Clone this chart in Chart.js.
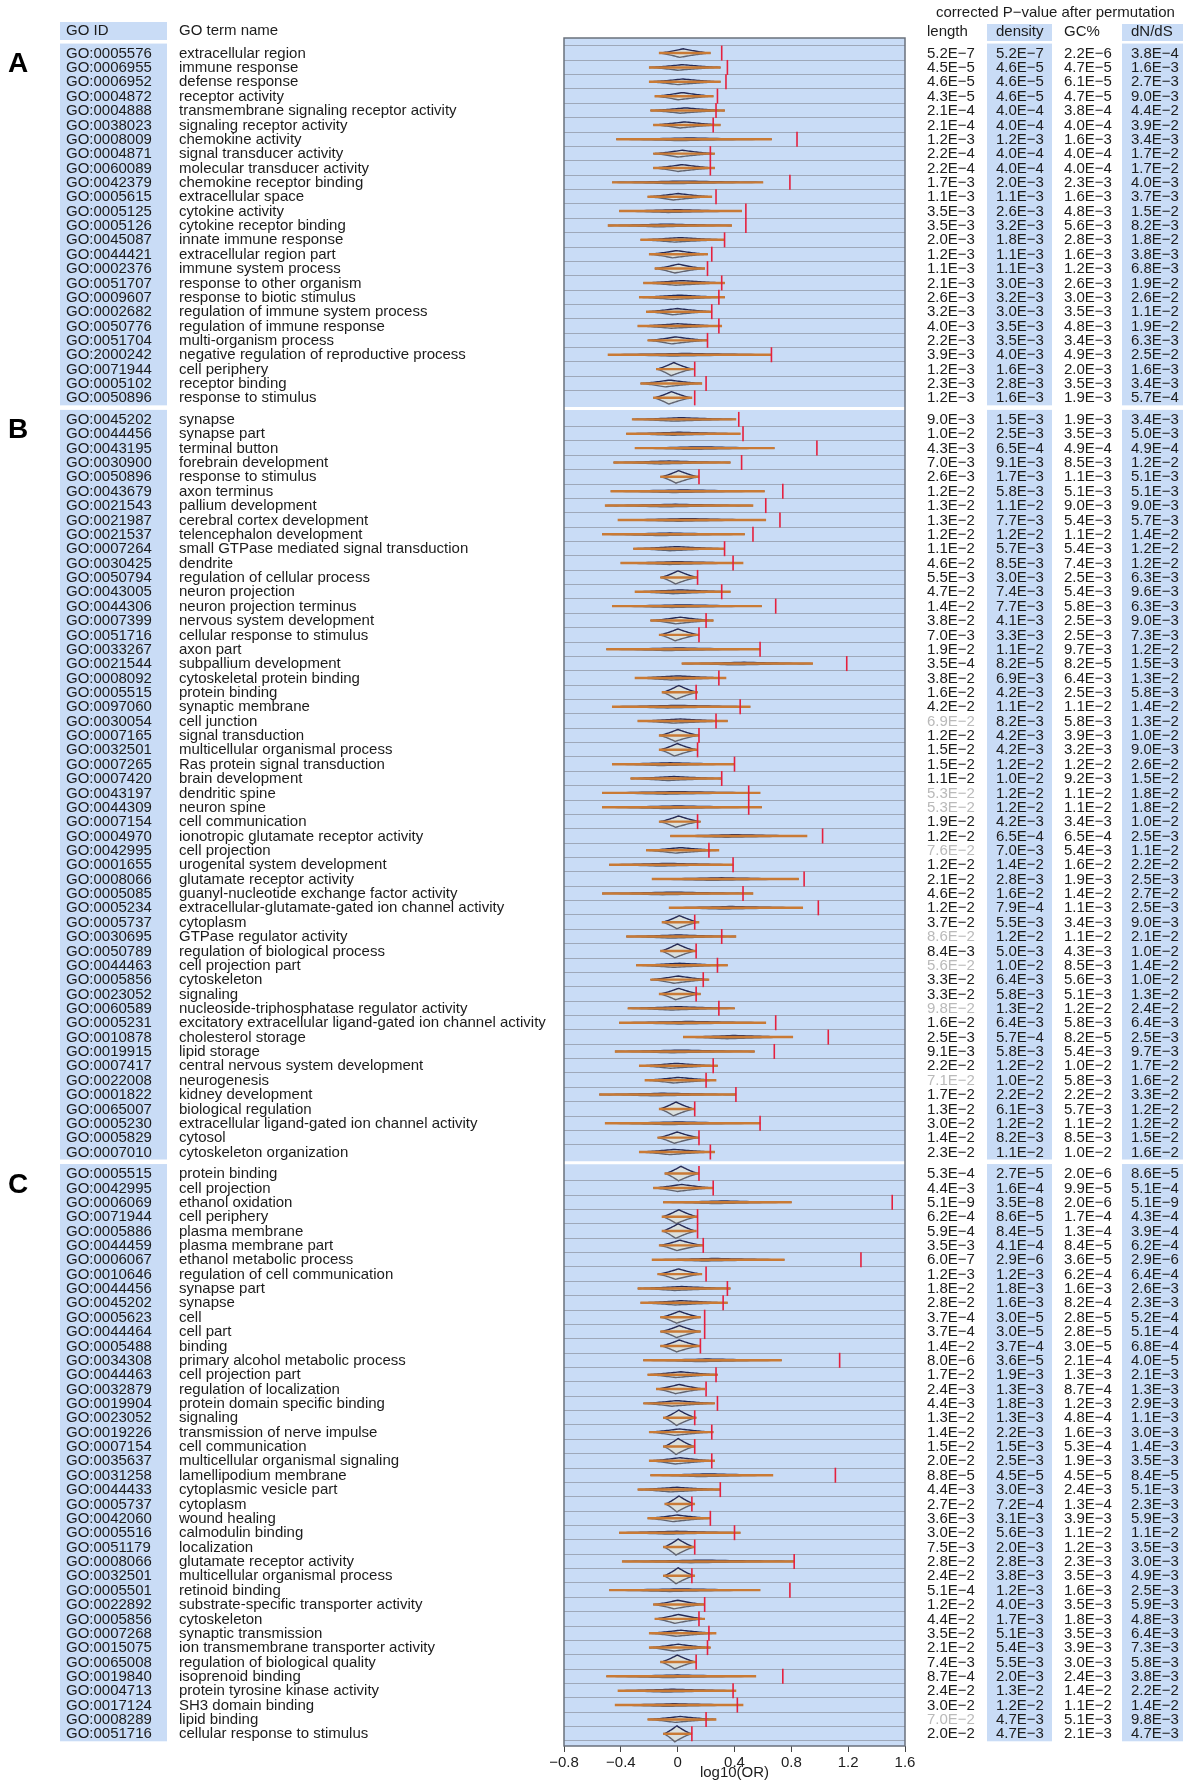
<!DOCTYPE html>
<html>
<head>
<meta charset="utf-8">
<script src="https://cdn.jsdelivr.net/npm/chart.js@4.4.1/dist/chart.umd.min.js"></script>
<style>
  html, body { margin: 0; padding: 0; background: #fff; }
  canvas { display: block; }
</style>
</head>
<body>
<canvas id="chart" width="1183" height="1782"></canvas>
<script>
// ---- data: section A ----
const idsA = ['GO:0005576','GO:0006955','GO:0006952','GO:0004872','GO:0004888','GO:0038023','GO:0008009','GO:0004871','GO:0060089','GO:0042379','GO:0005615','GO:0005125','GO:0005126','GO:0045087','GO:0044421','GO:0002376','GO:0051707','GO:0009607','GO:0002682','GO:0050776','GO:0051704','GO:2000242','GO:0071944','GO:0005102','GO:0050896'];
const termsA = ['extracellular region','immune response','defense response','receptor activity','transmembrane signaling receptor activity','signaling receptor activity','chemokine activity','signal transducer activity','molecular transducer activity','chemokine receptor binding','extracellular space','cytokine activity','cytokine receptor binding','innate immune response','extracellular region part','immune system process','response to other organism','response to biotic stimulus','regulation of immune system process','regulation of immune response','multi-organism process','negative regulation of reproductive process','cell periphery','receptor binding','response to stimulus'];
const lengthA  = ['5.2E-7','4.5E-5','4.6E-5','4.3E-5','2.1E-4','2.1E-4','1.2E-3','2.2E-4','2.2E-4','1.7E-3','1.1E-3','3.5E-3','3.5E-3','2.0E-3','1.2E-3','1.1E-3','2.1E-3','2.6E-3','3.2E-3','4.0E-3','2.2E-3','3.9E-3','1.2E-3','2.3E-3','1.2E-3'];
const densityA = ['5.2E-7','4.6E-5','4.6E-5','4.6E-5','4.0E-4','4.0E-4','1.2E-3','4.0E-4','4.0E-4','2.0E-3','1.1E-3','2.6E-3','3.2E-3','1.8E-3','1.1E-3','1.1E-3','3.0E-3','3.2E-3','3.0E-3','3.5E-3','3.5E-3','4.0E-3','1.6E-3','2.8E-3','1.6E-3'];
const gcA      = ['2.2E-6','4.7E-5','6.1E-5','4.7E-5','3.8E-4','4.0E-4','1.6E-3','4.0E-4','4.0E-4','2.3E-3','1.6E-3','4.8E-3','5.6E-3','2.8E-3','1.6E-3','1.2E-3','2.6E-3','3.0E-3','3.5E-3','4.8E-3','3.4E-3','4.9E-3','2.0E-3','3.5E-3','1.9E-3'];
const dndsA    = ['3.8E-4','1.6E-3','2.7E-3','9.0E-3','4.4E-2','3.9E-2','3.4E-3','1.7E-2','1.7E-2','4.0E-3','3.7E-3','1.5E-2','8.2E-3','1.8E-2','3.8E-3','6.8E-3','1.9E-2','2.6E-2','1.1E-2','1.9E-2','6.3E-3','2.5E-2','1.6E-3','3.4E-3','5.7E-4'];
const obsA = [0.31,0.35,0.34,0.28,0.27,0.25,0.84,0.23,0.23,0.79,0.27,0.48,0.48,0.33,0.24,0.21,0.31,0.29,0.24,0.29,0.21,0.66,0.12,0.20,0.12];
const loA  = [-0.13,-0.20,-0.20,-0.16,-0.19,-0.17,-0.43,-0.17,-0.17,-0.46,-0.21,-0.41,-0.49,-0.26,-0.20,-0.16,-0.24,-0.27,-0.22,-0.28,-0.21,-0.49,-0.15,-0.26,-0.17];
const hiA  = [0.23,0.30,0.30,0.25,0.33,0.30,0.66,0.26,0.26,0.60,0.24,0.45,0.38,0.33,0.21,0.19,0.33,0.33,0.24,0.31,0.21,0.66,0.11,0.17,0.10];

// ---- data: section B ----
const idsB = ['GO:0045202','GO:0044456','GO:0043195','GO:0030900','GO:0050896','GO:0043679','GO:0021543','GO:0021987','GO:0021537','GO:0007264','GO:0030425','GO:0050794','GO:0043005','GO:0044306','GO:0007399','GO:0051716','GO:0033267','GO:0021544','GO:0008092','GO:0005515','GO:0097060','GO:0030054','GO:0007165','GO:0032501','GO:0007265','GO:0007420','GO:0043197','GO:0044309','GO:0007154','GO:0004970','GO:0042995','GO:0001655','GO:0008066','GO:0005085','GO:0005234','GO:0005737','GO:0030695','GO:0050789','GO:0044463','GO:0005856','GO:0023052','GO:0060589','GO:0005231','GO:0010878','GO:0019915','GO:0007417','GO:0022008','GO:0001822','GO:0065007','GO:0005230','GO:0005829','GO:0007010'];
const termsB = ['synapse','synapse part','terminal button','forebrain development','response to stimulus','axon terminus','pallium development','cerebral cortex development','telencephalon development','small GTPase mediated signal transduction','dendrite','regulation of cellular process','neuron projection','neuron projection terminus','nervous system development','cellular response to stimulus','axon part','subpallium development','cytoskeletal protein binding','protein binding','synaptic membrane','cell junction','signal transduction','multicellular organismal process','Ras protein signal transduction','brain development','dendritic spine','neuron spine','cell communication','ionotropic glutamate receptor activity','cell projection','urogenital system development','glutamate receptor activity','guanyl-nucleotide exchange factor activity','extracellular-glutamate-gated ion channel activity','cytoplasm','GTPase regulator activity','regulation of biological process','cell projection part','cytoskeleton','signaling','nucleoside-triphosphatase regulator activity','excitatory extracellular ligand-gated ion channel activity','cholesterol storage','lipid storage','central nervous system development','neurogenesis','kidney development','biological regulation','extracellular ligand-gated ion channel activity','cytosol','cytoskeleton organization'];
const lengthB  = ['9.0E-3','1.0E-2','4.3E-3','7.0E-3','2.6E-3','1.2E-2','1.3E-2','1.3E-2','1.2E-2','1.1E-2','4.6E-2','5.5E-3','4.7E-2','1.4E-2','3.8E-2','7.0E-3','1.9E-2','3.5E-4','3.8E-2','1.6E-2','4.2E-2','6.9E-2','1.2E-2','1.5E-2','1.5E-2','1.1E-2','5.3E-2','5.3E-2','1.9E-2','1.2E-2','7.6E-2','1.2E-2','2.1E-2','4.6E-2','1.2E-2','3.7E-2','8.6E-2','8.4E-3','5.6E-2','3.3E-2','3.3E-2','9.8E-2','1.6E-2','2.5E-3','9.1E-3','2.2E-2','7.1E-2','1.7E-2','1.3E-2','3.0E-2','1.4E-2','2.3E-2'];
const densityB = ['1.5E-3','2.5E-3','6.5E-4','9.1E-3','1.7E-3','5.8E-3','1.1E-2','7.7E-3','1.2E-2','5.7E-3','8.5E-3','3.0E-3','7.4E-3','7.7E-3','4.1E-3','3.3E-3','1.1E-2','8.2E-5','6.9E-3','4.2E-3','1.1E-2','8.2E-3','4.2E-3','4.2E-3','1.2E-2','1.0E-2','1.2E-2','1.2E-2','4.2E-3','6.5E-4','7.0E-3','1.4E-2','2.8E-3','1.6E-2','7.9E-4','5.5E-3','1.2E-2','5.0E-3','1.0E-2','6.4E-3','5.8E-3','1.3E-2','6.4E-3','5.7E-4','5.8E-3','1.2E-2','1.0E-2','2.2E-2','6.1E-3','1.2E-2','8.2E-3','1.1E-2'];
const gcB      = ['1.9E-3','3.5E-3','4.9E-4','8.5E-3','1.1E-3','5.1E-3','9.0E-3','5.4E-3','1.1E-2','5.4E-3','7.4E-3','2.5E-3','5.4E-3','5.8E-3','2.5E-3','2.5E-3','9.7E-3','8.2E-5','6.4E-3','2.5E-3','1.1E-2','5.8E-3','3.9E-3','3.2E-3','1.2E-2','9.2E-3','1.1E-2','1.1E-2','3.4E-3','6.5E-4','5.4E-3','1.6E-2','1.9E-3','1.4E-2','1.1E-3','3.4E-3','1.1E-2','4.3E-3','8.5E-3','5.6E-3','5.1E-3','1.2E-2','5.8E-3','8.2E-5','5.4E-3','1.0E-2','5.8E-3','2.2E-2','5.7E-3','1.1E-2','8.5E-3','1.0E-2'];
const dndsB    = ['3.4E-3','5.0E-3','4.9E-4','1.2E-2','5.1E-3','5.1E-3','9.0E-3','5.7E-3','1.4E-2','1.2E-2','1.2E-2','6.3E-3','9.6E-3','6.3E-3','9.0E-3','7.3E-3','1.2E-2','1.5E-3','1.3E-2','5.8E-3','1.4E-2','1.3E-2','1.0E-2','9.0E-3','2.6E-2','1.5E-2','1.8E-2','1.8E-2','1.0E-2','2.5E-3','1.1E-2','2.2E-2','2.5E-3','2.7E-2','2.5E-3','9.0E-3','2.1E-2','1.0E-2','1.4E-2','1.0E-2','1.3E-2','2.4E-2','6.4E-3','2.5E-3','9.7E-3','1.7E-2','1.6E-2','3.3E-2','1.2E-2','1.2E-2','1.5E-2','1.6E-2'];
const obsB = [0.43,0.46,0.98,0.45,0.15,0.74,0.62,0.72,0.53,0.33,0.39,0.14,0.31,0.69,0.20,0.15,0.58,1.19,0.29,0.13,0.44,0.27,0.15,0.14,0.40,0.31,0.50,0.50,0.14,1.02,0.22,0.39,0.89,0.46,0.99,0.12,0.31,0.13,0.28,0.18,0.13,0.29,0.69,1.06,0.68,0.25,0.20,0.41,0.12,0.58,0.15,0.23];
const loB  = [-0.32,-0.36,-0.30,-0.45,-0.12,-0.47,-0.51,-0.42,-0.53,-0.31,-0.40,-0.12,-0.30,-0.46,-0.19,-0.13,-0.50,0.03,-0.30,-0.11,-0.46,-0.28,-0.13,-0.13,-0.46,-0.33,-0.53,-0.53,-0.13,-0.05,-0.22,-0.48,-0.18,-0.53,-0.06,-0.11,-0.36,-0.12,-0.29,-0.19,-0.13,-0.35,-0.41,0.04,-0.44,-0.27,-0.23,-0.55,-0.13,-0.51,-0.14,-0.27];
const hiB  = [0.41,0.44,0.68,0.37,0.15,0.61,0.53,0.62,0.47,0.33,0.46,0.14,0.37,0.59,0.25,0.15,0.58,0.95,0.34,0.14,0.51,0.35,0.15,0.14,0.40,0.31,0.58,0.59,0.16,0.91,0.29,0.39,0.85,0.53,0.88,0.15,0.41,0.13,0.35,0.22,0.16,0.40,0.62,0.81,0.54,0.28,0.27,0.41,0.12,0.58,0.15,0.26];

// ---- data: section C ----
const idsC = ['GO:0005515','GO:0042995','GO:0006069','GO:0071944','GO:0005886','GO:0044459','GO:0006067','GO:0010646','GO:0044456','GO:0045202','GO:0005623','GO:0044464','GO:0005488','GO:0034308','GO:0044463','GO:0032879','GO:0019904','GO:0023052','GO:0019226','GO:0007154','GO:0035637','GO:0031258','GO:0044433','GO:0005737','GO:0042060','GO:0005516','GO:0051179','GO:0008066','GO:0032501','GO:0005501','GO:0022892','GO:0005856','GO:0007268','GO:0015075','GO:0065008','GO:0019840','GO:0004713','GO:0017124','GO:0008289','GO:0051716'];
const termsC = ['protein binding','cell projection','ethanol oxidation','cell periphery','plasma membrane','plasma membrane part','ethanol metabolic process','regulation of cell communication','synapse part','synapse','cell','cell part','binding','primary alcohol metabolic process','cell projection part','regulation of localization','protein domain specific binding','signaling','transmission of nerve impulse','cell communication','multicellular organismal signaling','lamellipodium membrane','cytoplasmic vesicle part','cytoplasm','wound healing','calmodulin binding','localization','glutamate receptor activity','multicellular organismal process','retinoid binding','substrate-specific transporter activity','cytoskeleton','synaptic transmission','ion transmembrane transporter activity','regulation of biological quality','isoprenoid binding','protein tyrosine kinase activity','SH3 domain binding','lipid binding','cellular response to stimulus'];
const lengthC  = ['5.3E-4','4.4E-3','5.1E-9','6.2E-4','5.9E-4','3.5E-3','6.0E-7','1.2E-3','1.8E-2','2.8E-2','3.7E-4','3.7E-4','1.4E-2','8.0E-6','1.7E-2','2.4E-3','4.4E-3','1.3E-2','1.4E-2','1.5E-2','2.0E-2','8.8E-5','4.4E-3','2.7E-2','3.6E-3','3.0E-2','7.5E-3','2.8E-2','2.4E-2','5.1E-4','1.2E-2','4.4E-2','3.5E-2','2.1E-2','7.4E-3','8.7E-4','2.4E-2','3.0E-2','7.0E-2','2.0E-2'];
const densityC = ['2.7E-5','1.6E-4','3.5E-8','8.6E-5','8.4E-5','4.1E-4','2.9E-6','1.2E-3','1.8E-3','1.6E-3','3.0E-5','3.0E-5','3.7E-4','3.6E-5','1.9E-3','1.3E-3','1.8E-3','1.3E-3','2.2E-3','1.5E-3','2.5E-3','4.5E-5','3.0E-3','7.2E-4','3.1E-3','5.6E-3','2.0E-3','2.8E-3','3.8E-3','1.2E-3','4.0E-3','1.7E-3','5.1E-3','5.4E-3','5.5E-3','2.0E-3','1.3E-2','1.2E-2','4.7E-3','4.7E-3'];
const gcC      = ['2.0E-6','9.9E-5','2.0E-6','1.7E-4','1.3E-4','8.4E-5','3.6E-5','6.2E-4','1.6E-3','8.2E-4','2.8E-5','2.8E-5','3.0E-5','2.1E-4','1.3E-3','8.7E-4','1.2E-3','4.8E-4','1.6E-3','5.3E-4','1.9E-3','4.5E-5','2.4E-3','1.3E-4','3.9E-3','1.1E-2','1.2E-3','2.3E-3','3.5E-3','1.6E-3','3.5E-3','1.8E-3','3.5E-3','3.9E-3','3.0E-3','2.4E-3','1.4E-2','1.1E-2','5.1E-3','2.1E-3'];
const dndsC    = ['8.6E-5','5.1E-4','5.1E-9','4.3E-4','3.9E-4','6.2E-4','2.9E-6','6.4E-4','2.6E-3','2.3E-3','5.2E-4','5.1E-4','6.8E-4','4.0E-5','2.1E-3','1.3E-3','2.9E-3','1.1E-3','3.0E-3','1.4E-3','3.5E-3','8.4E-5','5.1E-3','2.3E-3','5.9E-3','1.1E-2','3.5E-3','3.0E-3','4.9E-3','2.5E-3','5.9E-3','4.8E-3','6.4E-3','7.3E-3','5.8E-3','3.8E-3','2.2E-2','1.4E-2','9.8E-3','4.7E-3'];
const obsC = [0.15,0.25,1.51,0.14,0.14,0.18,1.29,0.20,0.35,0.32,0.19,0.19,0.16,1.14,0.27,0.20,0.28,0.12,0.24,0.12,0.24,1.11,0.30,0.10,0.23,0.40,0.12,0.82,0.10,0.79,0.19,0.15,0.22,0.21,0.13,0.74,0.39,0.42,0.20,0.10];
const loC  = [-0.09,-0.17,-0.10,-0.11,-0.11,-0.13,-0.18,-0.14,-0.28,-0.26,-0.12,-0.12,-0.12,-0.24,-0.21,-0.15,-0.24,-0.10,-0.20,-0.10,-0.20,-0.19,-0.28,-0.09,-0.21,-0.41,-0.10,-0.39,-0.10,-0.48,-0.17,-0.16,-0.20,-0.20,-0.12,-0.50,-0.42,-0.44,-0.21,-0.10];
const hiC  = [0.15,0.25,0.80,0.14,0.13,0.18,0.75,0.17,0.37,0.35,0.16,0.16,0.16,0.73,0.28,0.19,0.26,0.13,0.25,0.12,0.26,0.67,0.30,0.12,0.23,0.44,0.12,0.82,0.12,0.58,0.19,0.19,0.27,0.23,0.13,0.55,0.41,0.46,0.27,0.10];

// ---- axis / headers ----
const xTicks = [-0.8, -0.4, 0, 0.4, 0.8, 1.2, 1.6];
const xTickLabels = ['\u22120.8', '\u22120.4', '0', '0.4', '0.8', '1.2', '1.6'];
const pvalHeader = 'corrected P\u2212value after permutation';
const pvalCols = ['length', 'density', 'GC%', 'dN/dS'];

// ---- style ----
const FONT = "'Liberation Sans', Arial, Helvetica, sans-serif";
const BLUE = '#c9dcf6';
const INK = '#1c1c1c';
const FADED = '#b9b9b9';
const SECTION_GAP = 0.5;   // extra rows between panels

const raw = [
  { label: 'A', ids: idsA, terms: termsA, cols: [lengthA, densityA, gcA, dndsA], obs: obsA, lo: loA, hi: hiA },
  { label: 'B', ids: idsB, terms: termsB, cols: [lengthB, densityB, gcB, dndsB], obs: obsB, lo: loB, hi: hiB },
  { label: 'C', ids: idsC, terms: termsC, cols: [lengthC, densityC, gcC, dndsC], obs: obsC, lo: loC, hi: hiC },
];
let next = 0;
const sections = raw.map(s => {
  const start = next;
  next = start + s.ids.length + SECTION_GAP;
  return { ...s, start, pos: s.ids.map((_, i) => start + i) };
});
const allPos = sections.flatMap(s => s.pos);
const lastPos = allPos[allPos.length - 1];

const valX = [927, 996, 1064, 1131];
const colBoxes = [[60, 167], [987, 1052], [1122, 1183]];

function drawViolin(ctx, x, yPix, lo, hi) {
  const range = Math.max(hi - lo, 0.05);
  const h = Math.max(1.3, Math.min(8, 7.3 * Math.pow(0.24 / range, 1.3)));
  const curve = (peak) => {
    const pts = [];
    for (let k = 0; k <= 40; k++) {
      const v = lo + range * k / 40;
      const t = v < peak ? (peak - v) / (peak - lo) : (v - peak) / (hi - peak);
      pts.push([x.getPixelForValue(v), h * Math.pow(Math.max(0, 1 - t), 1.3)]);
    }
    return pts;
  };
  const up = curve(lo + 0.47 * range), dn = curve(lo + 0.40 * range);
  ctx.beginPath();
  up.forEach(([px, d], i) => i ? ctx.lineTo(px, yPix - d) : ctx.moveTo(px, yPix - d));
  for (let i = dn.length - 1; i >= 0; i--) ctx.lineTo(dn[i][0], yPix + dn[i][1]);
  ctx.closePath();
  ctx.fillStyle = 'rgba(230,226,208,0.6)';
  ctx.fill();
  ctx.lineWidth = 1.4;
  ctx.strokeStyle = '#62646f';
  ctx.beginPath();
  dn.forEach(([px, d], i) => i ? ctx.lineTo(px, yPix + d) : ctx.moveTo(px, yPix + d));
  ctx.stroke();
  ctx.strokeStyle = '#262a55';
  ctx.beginPath();
  up.forEach(([px, d], i) => i ? ctx.lineTo(px, yPix - d) : ctx.moveTo(px, yPix - d));
  ctx.stroke();
}

const figurePlugin = {
  id: 'figure',
  beforeDraw(chart) {
    const { ctx, chartArea: a, scales: { y } } = chart;
    ctx.save();
    ctx.fillStyle = BLUE;
    ctx.fillRect(a.left, a.top, a.right - a.left, a.bottom - a.top);
    sections.forEach(s => {
      const top = y.getPixelForValue(s.pos[0]) - 9.5;
      const bot = y.getPixelForValue(s.pos[s.pos.length - 1]) + 7.5;
      colBoxes.forEach(([x0, x1]) => ctx.fillRect(x0, top, x1 - x0, bot - top));
    });
    // header boxes
    ctx.fillRect(60, 22, 107, 18);
    ctx.fillRect(987, 24, 65, 17);
    ctx.fillRect(1122, 24, 61, 17);
    ctx.restore();
  },
  beforeDatasetsDraw(chart) {
    const { ctx, chartArea: a, scales: { x, y } } = chart;
    ctx.save();
    ctx.strokeStyle = '#ffffff';
    ctx.lineWidth = 3;
    sections.slice(1).forEach(s => {
      const yy = y.getPixelForValue(s.start - (1 + SECTION_GAP) / 2);
      ctx.beginPath(); ctx.moveTo(a.left, yy); ctx.lineTo(a.right, yy); ctx.stroke();
    });
    sections.forEach(s => s.pos.forEach((p, i) => drawViolin(ctx, x, y.getPixelForValue(p), s.lo[i], s.hi[i])));
    ctx.restore();
  },
  afterDraw(chart) {
    const { ctx, chartArea: a, scales: { y } } = chart;
    ctx.save();
    ctx.strokeStyle = '#6a717c';
    ctx.lineWidth = 1.5;
    ctx.strokeRect(a.left, a.top, a.right - a.left, a.bottom - a.top);

    ctx.fillStyle = INK;
    ctx.textBaseline = 'middle';
    ctx.font = `15px ${FONT}`;
    ctx.fillText(pvalHeader, 936, 13);
    ctx.fillText('GO ID', 66, 31);
    ctx.fillText('GO term name', 179, 31);
    pvalCols.forEach((c, j) => ctx.fillText(c, valX[j], 32));

    sections.forEach(s => {
      const y0 = y.getPixelForValue(s.pos[0]);
      ctx.font = `bold 28px ${FONT}`;
      ctx.textBaseline = 'alphabetic';
      ctx.fillStyle = '#000';
      ctx.fillText(s.label, 8, y0 + 19);
      ctx.font = `15px ${FONT}`;
      ctx.textBaseline = 'middle';
      s.pos.forEach((p, i) => {
        const yy = y.getPixelForValue(p) + 0.5;
        ctx.fillStyle = INK;
        ctx.fillText(s.ids[i], 66, yy);
        ctx.fillText(s.terms[i], 179, yy);
        s.cols.forEach((col, j) => {
          ctx.fillStyle = parseFloat(col[i]) >= 0.05 ? FADED : INK;
          ctx.fillText(col[i].replace('-', '\u2212'), valX[j], yy);
        });
      });
    });
    ctx.restore();
  }
};

Chart.defaults.font.family = FONT;
Chart.defaults.color = INK;

new Chart(document.getElementById('chart'), {
  type: 'scatter',
  data: {
    datasets: [
      {
        type: 'bar',
        indexAxis: 'y',
        data: sections.flatMap(s => s.pos.map((p, i) => ({ x: [s.lo[i], s.hi[i]], y: p }))),
        backgroundColor: '#c97a35',
        borderWidth: 0,
        barThickness: 1.8,
        grouped: false,
        order: 2
      },
      {
        type: 'scatter',
        data: sections.flatMap(s => s.pos.map((p, i) => ({ x: s.obs[i], y: p }))),
        pointStyle: 'line',
        rotation: 90,
        radius: 7.5,
        hoverRadius: 7.5,
        borderColor: '#e5213f',
        borderWidth: 1.6,
        order: 1
      }
    ]
  },
  options: {
    responsive: false,
    animation: false,
    events: [],
    layout: { padding: { left: 564, right: 278, top: 38, bottom: 0 } },
    plugins: { legend: { display: false }, tooltip: { enabled: false } },
    scales: {
      x: {
        type: 'linear',
        min: xTicks[0],
        max: xTicks[xTicks.length - 1],
        afterBuildTicks: s => { s.ticks = xTicks.map(v => ({ value: v })); },
        afterFit: s => { s.height = 36; },
        ticks: {
          autoSkip: false, maxRotation: 0, padding: 2,
          font: { size: 15 }, color: INK,
          callback: (v, i) => xTickLabels[i]
        },
        grid: { drawOnChartArea: false, drawTicks: true, tickLength: 6, color: '#444', lineWidth: 1 },
        border: { display: false },
        title: { display: true, text: 'log10(OR)', font: { size: 15 }, color: INK, padding: { top: 0, bottom: 0 } }
      },
      y: {
        type: 'linear',
        reverse: true,
        offset: false,
        min: -1.05,
        max: lastPos + 0.85,
        afterBuildTicks: s => { s.ticks = allPos.map(v => ({ value: v })); },
        afterFit: s => { s.width = 0; },
        ticks: { display: false },
        grid: { color: '#98a2b2', lineWidth: 0.9, drawTicks: false },
        border: { display: false }
      }
    }
  },
  plugins: [figurePlugin]
});
</script>
</body>
</html>
